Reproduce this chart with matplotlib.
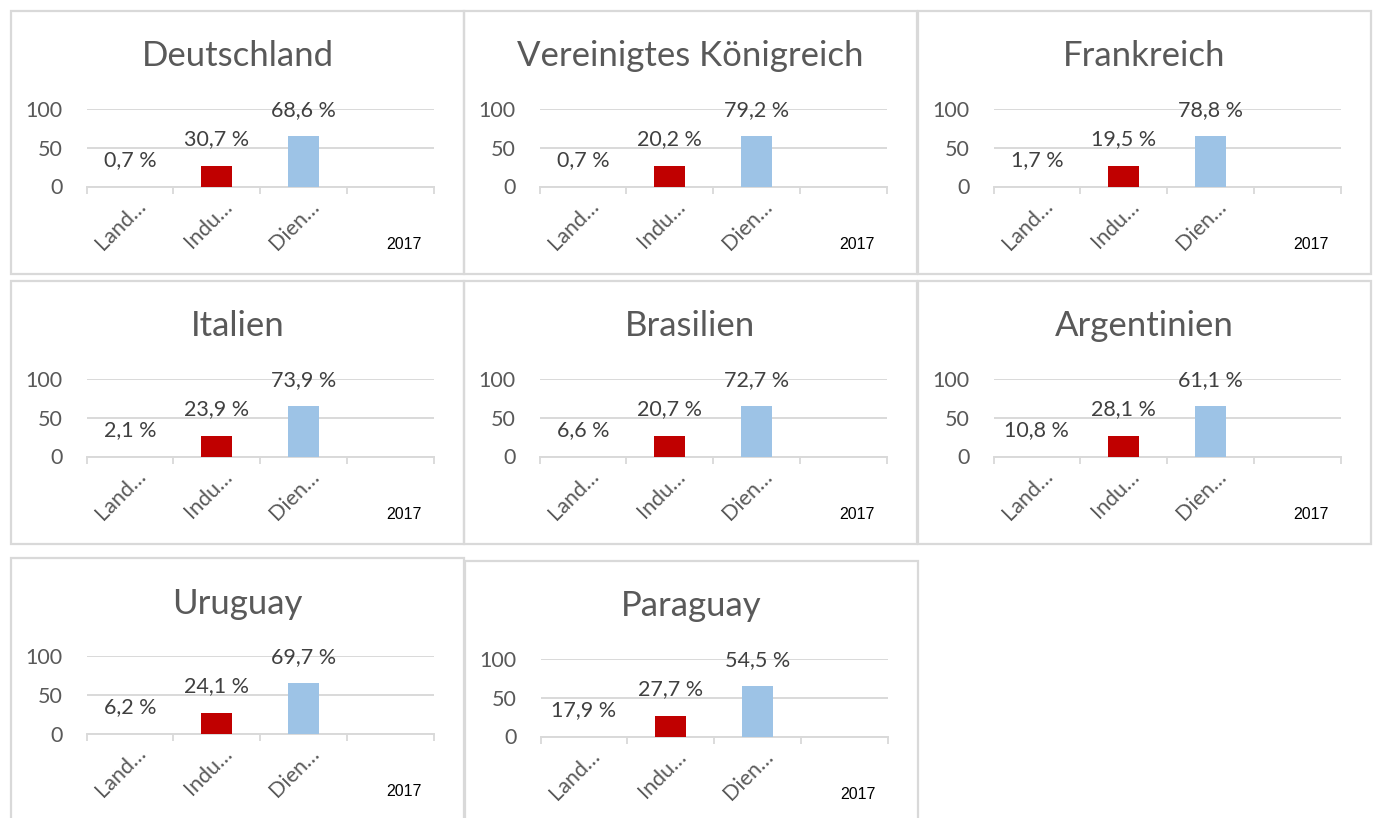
import matplotlib
matplotlib.use('Agg')
import matplotlib.pyplot as plt
from matplotlib.patches import Rectangle

W, H = 1379, 818

countries = ['Deutschland', 'Vereinigtes Königreich', 'Frankreich',
             'Italien', 'Brasilien', 'Argentinien',
             'Uruguay', 'Paraguay']
sectors = ['Land…', 'Indu…', 'Dien…']
# bars as drawn in the picture (same in every panel)
bar_heights = [0, 27, 65]
bar_colors = ['#c00000', '#c00000', '#9dc3e6']
# labelled shares, per country: Landwirtschaft, Industrie, Dienstleistung
share_labels = [
    ['0,7 %', '30,7 %', '68,6 %'],
    ['0,7 %', '20,2 %', '79,2 %'],
    ['1,7 %', '19,5 %', '78,8 %'],
    ['2,1 %', '23,9 %', '73,9 %'],
    ['6,6 %', '20,7 %', '72,7 %'],
    ['10,8 %', '28,1 %', '61,1 %'],
    ['6,2 %', '24,1 %', '69,7 %'],
    ['17,9 %', '27,7 %', '54,5 %'],
]
year = '2017'

# panel boxes in pixels: left, top
panels = [(11, 11), (464, 11), (918, 11),
          (11, 281), (464, 281), (918, 281),
          (11, 558), (465, 561)]
PW, PH = 453, 263

fig = plt.figure(figsize=(W / 100, H / 100), dpi=100)
fig.patch.set_facecolor('white')


def fx(x):
    return x / W


def fy(y):
    return 1 - y / H


for i, (px, py) in enumerate(panels):
    fig.add_artist(Rectangle((fx(px), fy(py + PH)), PW / W, PH / H,
                             transform=fig.transFigure, fill=False,
                             edgecolor='#d9d9d9', linewidth=1.6))
    fig.text(fx(px + PW / 2), fy(py + 55.5), countries[i], ha='center',
             va='baseline', fontsize=25, color='#595959', family='Lato')

    left, right = px + 75.5, px + 423
    top, bottom = py + 98, py + 175.5
    ax = fig.add_axes([fx(left), fy(bottom), (right - left) / W, (bottom - top) / H])
    ax.set_xlim(0, 4)
    ax.set_ylim(0, 100)
    xs = [0.5, 1.5, 2.5]
    ax.bar(xs[1:], bar_heights[1:], width=0.36, color=bar_colors[1:], zorder=3)
    for x, h, lab in zip(xs, bar_heights, share_labels[i]):
        ax.annotate(lab, (x, h), xytext=(0, 19), textcoords='offset points',
                    ha='center', va='center', fontsize=15.5, color='#404040',
                    family='Lato', zorder=4)
    for x, s in zip(xs, sectors):
        ax.annotate(s, (x, 0), xycoords=('data', 'axes fraction'),
                    xytext=(9, -12), textcoords='offset points', rotation=45,
                    rotation_mode='anchor', ha='right', va='center',
                    fontsize=15.5, color='#595959', family='Lato')
    ax.annotate(year, (3.65, 0), xycoords=('data', 'axes fraction'),
                xytext=(0, -42), textcoords='offset points', ha='center',
                va='center', fontsize=11.5, color='black', family='Liberation Sans')

    ax.set_yticks([0, 50, 100])
    ax.set_yticklabels(['0', '50', '100'], fontsize=15.5, color='#595959', family='Lato')
    ax.tick_params(axis='y', length=0, pad=17)
    ax.set_xticks([0, 1, 2, 3, 4])
    ax.set_xticklabels([])
    ax.tick_params(axis='x', length=5, width=1.3, color='#d9d9d9', direction='out')
    ax.grid(axis='y', color='#d9d9d9', linewidth=1.4, zorder=0)
    ax.set_axisbelow(True)
    for side in ['top', 'left', 'right']:
        ax.spines[side].set_visible(False)
    ax.spines['bottom'].set_color('#d9d9d9')
    ax.spines['bottom'].set_linewidth(1.4)
    ax.patch.set_alpha(0)

fig.savefig('out.png', dpi=100)
